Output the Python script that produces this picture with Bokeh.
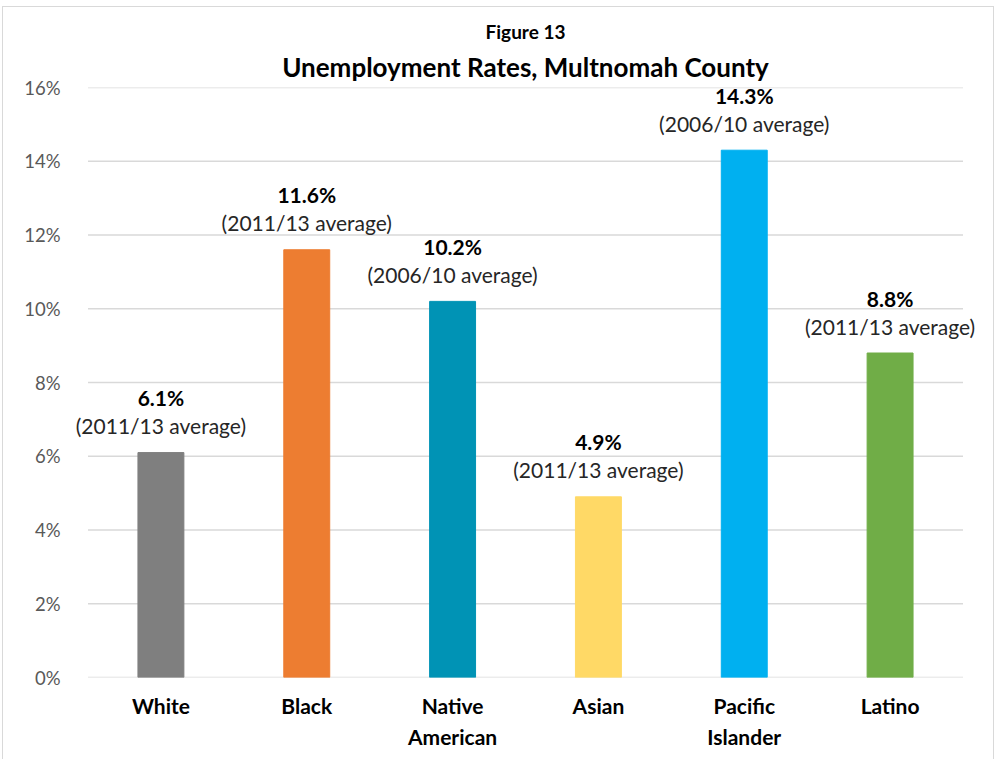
from bokeh.plotting import figure
from bokeh.models import (ColumnDataSource, LabelSet, NumeralTickFormatter, FixedTicker,
                          Range1d, Title, FactorRange)
from bokeh.core.properties import value
from bokeh.embed import file_html
from bokeh.resources import INLINE

categories = ["White", "Black", "Native American", "Asian", "Pacific Islander", "Latino"]
axis_labels = ["White", "Black", "Native\nAmerican", "Asian", "Pacific\nIslander", "Latino"]
rates = [6.1, 11.6, 10.2, 4.9, 14.3, 8.8]
periods = ["(2011/13 average)", "(2011/13 average)", "(2006/10 average)",
           "(2011/13 average)", "(2006/10 average)", "(2011/13 average)"]
colors = ["#7F7F7F", "#ED7D31", "#0093B5", "#FFD966", "#00B0F0", "#70AD47"]
y_ticks = [0, 2, 4, 6, 8, 10, 12, 14, 16]

FONT = "Lato"

src = ColumnDataSource(dict(
    cat=axis_labels,
    name=categories,
    rate=[r / 100 for r in rates],
    lbl=[f"{r:.1f}%" for r in rates],
    period=periods,
    color=colors,
))

# horizontal gridlines spanning exactly the category band
grid_src = ColumnDataSource(dict(
    x0=[(axis_labels[0], -0.5)] * len(y_ticks),
    x1=[(axis_labels[-1], 0.5)] * len(y_ticks),
    y=[t / 100 for t in y_ticks],
))

W, H = 990, 752
x_range = FactorRange(factors=axis_labels, range_padding=0.12, range_padding_units="absolute")
p = figure(x_range=x_range, y_range=Range1d(0, 0.16), width=W, height=H,
           output_backend="svg", toolbar_location=None,
           min_border_left=67, min_border_right=13, min_border_top=80, min_border_bottom=82)
p.styles = {"outline": "1px solid #D9D9D9", "margin-left": "3px", "margin-top": "7px"}

p.segment(x0="x0", y0="y", x1="x1", y1="y", source=grid_src,
          line_color="#D9D9D9", line_width=1.5)
p.vbar(x="cat", top="rate", width=0.315, color="color", source=src)

p.add_layout(LabelSet(x="cat", y="rate", text="period", source=src, y_offset=27,
                      text_align="center", text_baseline="middle",
                      text_font=value(FONT), text_font_size="21px", text_color="#262626"))
p.add_layout(LabelSet(x="cat", y="rate", text="lbl", source=src, y_offset=55,
                      text_align="center", text_baseline="middle",
                      text_font=value(FONT), text_font_size="21px", text_font_style="bold",
                      text_color="#000000"))

p.outline_line_color = None
p.xgrid.grid_line_color = None
p.ygrid.grid_line_color = None

p.yaxis.ticker = FixedTicker(ticks=[t / 100 for t in y_ticks])
p.yaxis.formatter = NumeralTickFormatter(format="0%")
p.yaxis.axis_line_color = None
p.yaxis.major_tick_line_color = None
p.yaxis.minor_tick_line_color = None
p.yaxis.major_label_standoff = 4
p.yaxis.major_label_text_font = FONT
p.yaxis.major_label_text_font_size = "18.5px"
p.yaxis.major_label_text_color = "#595959"

xa = p.xaxis[0]
xa.axis_line_color = None
xa.major_tick_line_color = None
xa.major_tick_out = 0
xa.major_tick_in = 0
xa.major_label_standoff = 15
xa.major_label_text_font = FONT
xa.major_label_text_font_size = "21px"
xa.major_label_text_font_style = "bold"
xa.major_label_text_color = "#000000"
xa.major_label_text_line_height = 1.25

p.add_layout(Title(text="Unemployment Rates, Multnomah County", align="center",
                   text_font=FONT, text_font_size="26px", text_font_style="bold",
                   text_color="#000000", standoff=9, offset=-24), "above")
p.add_layout(Title(text="Figure 13", align="center",
                   text_font=FONT, text_font_size="19px", text_font_style="bold",
                   text_color="#000000", standoff=3, offset=-24), "above")

open("out.html", "w").write(file_html(p, INLINE))
